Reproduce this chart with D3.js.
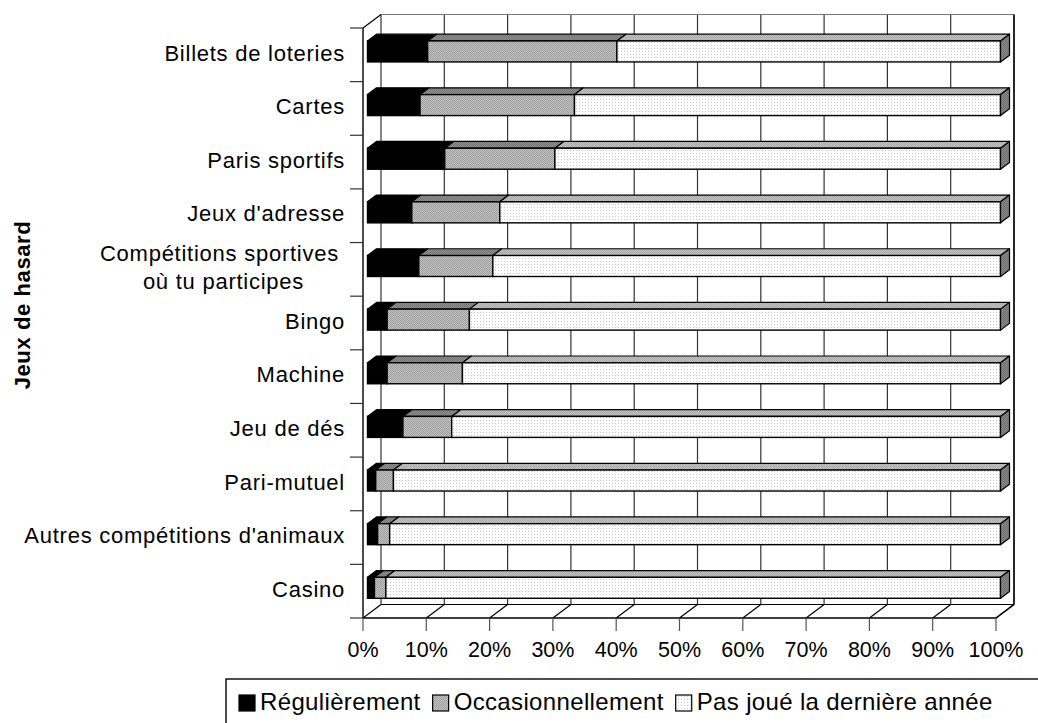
<!DOCTYPE html>
<html>
<head>
<meta charset="utf-8">
<script src="https://cdn.jsdelivr.net/npm/d3@7/dist/d3.min.js"></script>
<style>
  html, body { margin: 0; padding: 0; background: #fff; }
  svg { display: block; }
  text { font-family: "Liberation Sans", Arial, sans-serif; fill: #000; }
</style>
</head>
<body>
<svg id="chart" width="1038" height="723"></svg>
<script>
// ---- data ----
const categories = [
  "Billets de loteries", "Cartes", "Paris sportifs", "Jeux d'adresse",
  "Compétitions sportives\nDoù tu participes", "Bingo", "Machine", "Jeu de dés",
  "Pari-mutuel", "Autres compétitions d'animaux", "Casino"
].map(s => s.replace("\nD", "\n"));
const regulierement   = [9.5, 8.3, 12.2, 7.0, 8.1, 3.1, 3.1, 5.6, 1.3, 1.6, 1.1];
const occasionnellement = [29.9, 24.4, 17.4, 13.9, 11.7, 13.0, 11.9, 7.7, 2.8, 1.9, 1.8];
const pasJoue = regulierement.map((r, i) => +(100 - r - occasionnellement[i]).toFixed(1));
const xTickValues = [0, 10, 20, 30, 40, 50, 60, 70, 80, 90, 100];
const seriesNames = ["Régulièrement", "Occasionnellement", "Pas joué la dernière année"];
const yAxisTitle = "Jeux de hasard";

const seriesValues = [regulierement, occasionnellement, pasJoue];

// ---- layout ----
const svg = d3.select("#chart");
const frontLeft = 363, frontRight = 996, frontTop = 28, frontBottom = 618;
const DX = 18, DY = -13.5;               // full depth offset (front -> back wall)
const x = d3.scaleLinear().domain([0, 100]).range([frontLeft, frontRight]);
const y = d3.scaleBand().domain(categories).range([frontTop, frontBottom]).paddingInner(0).paddingOuter(0);
const off = d => [DX * d, DY * d];

// ---- patterns ----
const defs = svg.append("defs");
function checker(id, a, b) {
  const p = defs.append("pattern").attr("id", id).attr("width", 2).attr("height", 2)
    .attr("patternUnits", "userSpaceOnUse");
  p.append("rect").attr("width", 2).attr("height", 2).attr("fill", a);
  p.append("rect").attr("width", 1).attr("height", 1).attr("fill", b);
  p.append("rect").attr("x", 1).attr("y", 1).attr("width", 1).attr("height", 1).attr("fill", b);
}
checker("grayFront", "#c4c4c4", "#9c9c9c");
checker("grayTop", "#8e8e8e", "#767676");
checker("whiteTop", "#c2c2c2", "#a9a9a9");
checker("endFace", "#8a8a8a", "#6e6e6e");
(function () {
  const p = defs.append("pattern").attr("id", "whiteFront").attr("width", 3).attr("height", 3)
    .attr("patternUnits", "userSpaceOnUse");
  p.append("rect").attr("width", 3).attr("height", 3).attr("fill", "#ffffff");
  p.append("rect").attr("width", 1).attr("height", 1).attr("fill", "#c6c6c6");
})();
const frontFill = ["#000", "url(#grayFront)", "url(#whiteFront)"];
const topFill = ["#000", "url(#grayTop)", "url(#whiteTop)"];

// ---- walls / floor ----
const g = svg.append("g");
const line = (x1, y1, x2, y2, col, w) => g.append("line")
  .attr("x1", x1).attr("y1", y1).attr("x2", x2).attr("y2", y2)
  .attr("stroke", col || "#000").attr("stroke-width", w || 1.2);

xTickValues.forEach(v => line(x(v) + DX, frontTop + DY, x(v) + DX, frontBottom + DY, "#333", 1.2));
line(x(0) + DX, frontTop + DY, x(100) + DX, frontTop + DY, "#777", 1.2);
xTickValues.forEach(v => line(x(v), frontBottom, x(v) + DX, frontBottom + DY, "#000", 1.2));
line(x(0) + DX, frontBottom + DY, x(100) + DX, frontBottom + DY, "#000", 1.2);
line(x(0), frontBottom, x(100), frontBottom, "#000", 1.4);
line(x(0), frontTop, x(0) + DX, frontTop + DY, "#000", 1.2);
line(x(0), frontTop, x(0), frontBottom, "#000", 1.4);
xTickValues.forEach(v => line(x(v), frontBottom, x(v), frontBottom + 13, "#555", 1.2));
categories.forEach(c => line(350, y(c), x(0), y(c), "#333", 1.2));
line(350, frontBottom, x(0), frontBottom, "#333", 1.2);

// ---- bars ----
const barD0 = 0.25, barD1 = 0.75;
const barH = 21;
const bars = svg.append("g");
categories.forEach((c, i) => {
  const [fx, fy] = off(barD0);
  const [bx, by] = off(barD1);
  const ddx = bx - fx, ddy = by - fy;
  const yc = y(c) + y.bandwidth() / 2 + fy;
  const yT = yc - barH / 2, yB = yc + barH / 2;
  let cum = 0;
  seriesValues.forEach((vals, s) => {
    const v0 = cum, v1 = cum + vals[i];
    cum = v1;
    const x0 = x(v0) + fx, x1 = x(v1) + fx;
    bars.append("path")
      .attr("d", `M${x0},${yT}L${x1},${yT}L${x1 + ddx},${yT + ddy}L${x0 + ddx},${yT + ddy}Z`)
      .attr("fill", topFill[s]).attr("stroke", "#000").attr("stroke-width", 1.2).attr("stroke-linejoin", "round");
    bars.append("rect").attr("x", x0).attr("y", yT).attr("width", x1 - x0).attr("height", barH)
      .attr("fill", frontFill[s]).attr("stroke", "#000").attr("stroke-width", 1.4);
    if (s === seriesValues.length - 1) {
      bars.append("path")
        .attr("d", `M${x1},${yT}L${x1 + ddx},${yT + ddy}L${x1 + ddx},${yB + ddy}L${x1},${yB}Z`)
        .attr("fill", "url(#endFace)").attr("stroke", "#000").attr("stroke-width", 1.2).attr("stroke-linejoin", "round");
    }
  });
});
line(x(100) + DX, frontTop + DY, x(100) + DX, frontBottom + DY, "#000", 1.4);
line(x(100), frontBottom, x(100) + DX, frontBottom + DY, "#000", 1.2);

// ---- category labels ----
const labels = svg.append("g").attr("font-size", 22).attr("letter-spacing", 0.75);
categories.forEach(c => {
  const lines = c.split("\n");
  const yc = y(c) + y.bandwidth() / 2 - 2;
  if (lines.length === 1) {
    labels.append("text").attr("x", 345).attr("y", yc).attr("dy", "0.35em")
      .attr("text-anchor", "end").text(c);
  } else {
    const t1 = labels.append("text").attr("x", 339).attr("y", yc - 14).attr("dy", "0.35em")
      .attr("text-anchor", "end").text(lines[0]);
    const w = t1.node().getComputedTextLength();
    labels.append("text").attr("x", 339 - w / 2 + 4).attr("y", yc + 14).attr("dy", "0.35em")
      .attr("text-anchor", "middle").text(lines[1]);
  }
});

// ---- x tick labels ----
const xl = svg.append("g").attr("font-size", 21.5);
xTickValues.forEach(v => xl.append("text").attr("x", x(v)).attr("y", 657)
  .attr("text-anchor", "middle").text(v + "%"));

// ---- y axis title ----
svg.append("text").attr("transform", "translate(30,305) rotate(-90)")
  .attr("text-anchor", "middle").attr("font-size", 22).attr("letter-spacing", 0.6)
  .attr("font-weight", "bold").text(yAxisTitle);

// ---- legend ----
const lg = svg.append("g");
lg.append("rect").attr("x", 226).attr("y", 679).attr("width", 840).attr("height", 70)
  .attr("fill", "#fff").attr("stroke", "#000").attr("stroke-width", 1.4);
const legendFill = ["#000", "url(#grayFront)", "url(#whiteFront)"];
let lx = 239;
seriesNames.forEach((name, s) => {
  lg.append("rect").attr("x", lx).attr("y", 695).attr("width", 16).attr("height", 16)
    .attr("fill", legendFill[s]).attr("stroke", "#000").attr("stroke-width", 1.2);
  const t = lg.append("text").attr("x", lx + 21).attr("y", 710).attr("font-size", 24)
    .attr("letter-spacing", 0.35).text(name);
  lx += 21 + t.node().getComputedTextLength() + 12;
});
</script>
</body>
</html>
